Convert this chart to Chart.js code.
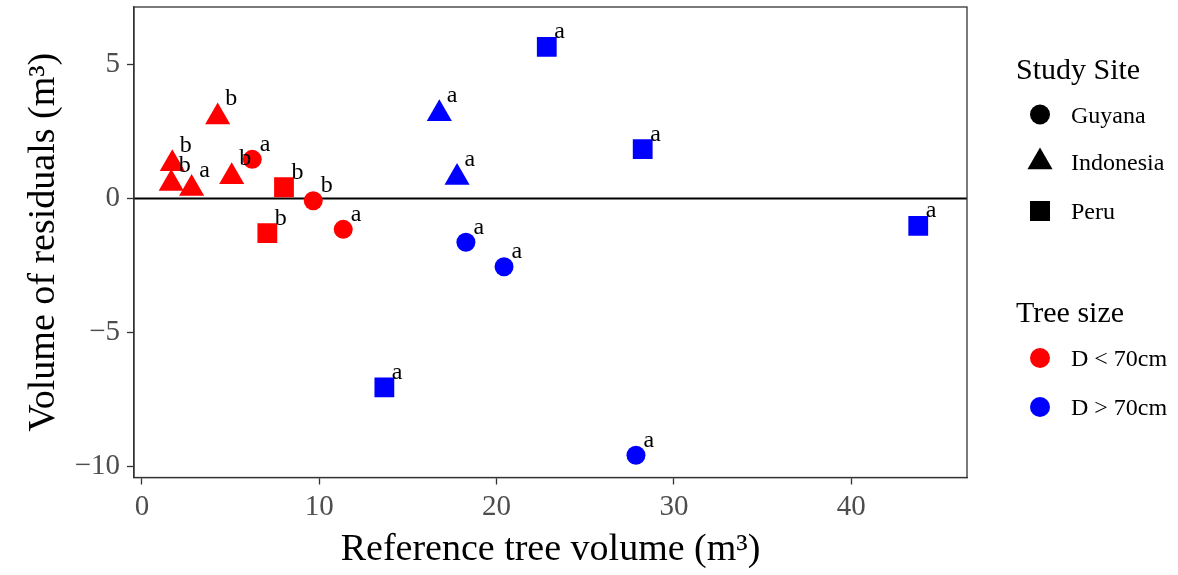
<!DOCTYPE html>
<html>
<head>
<meta charset="utf-8">
<script src="https://cdn.jsdelivr.net/npm/chart.js@4"></script>
<style>
  html, body { margin: 0; padding: 0; background: #fff; }
  canvas { display: block; }
</style>
</head>
<body>
<canvas id="chart" width="1178" height="575"></canvas>
<script>
// values
const refVolume = [4.27, 1.71, 1.65, 2.80, 5.06, 6.22, 8.01, 9.66, 11.35, 7.07,
                   22.83, 16.77, 17.77, 28.24, 18.27, 20.42, 13.67, 27.86, 43.78]
const residuals = [3.04, 1.30, 0.56, 0.37, 0.81, 1.46, 0.42, -0.08, -1.15, -1.29,
                   5.65, 3.16, 0.78, 1.84, -1.63, -2.54, -7.04, -9.57, -1.02]
const site = ["Indonesia", "Indonesia", "Indonesia", "Indonesia", "Indonesia", "Guyana", "Peru", "Guyana", "Guyana", "Peru",
              "Peru", "Indonesia", "Indonesia", "Peru", "Guyana", "Guyana", "Peru", "Guyana", "Peru"]
const treeSize = ["small", "small", "small", "small", "small", "small", "small", "small", "small", "small",
                  "large", "large", "large", "large", "large", "large", "large", "large", "large"]
const letters = ["b", "b", "b", "a", "b", "a", "b", "b", "a", "b",
                 "a", "a", "a", "a", "a", "a", "a", "a", "a"]

const sites = ["Guyana", "Indonesia", "Peru"]
const sizeLabels = {small: "D < 70cm", large: "D > 70cm"}
const sizeColors = {small: "#FF0000", large: "#0000FF"}
const shapes = {Guyana: "circle", Indonesia: "triangle", Peru: "rect"}
const radii = {Guyana: 9.5, Indonesia: 14.5, Peru: 14}
// letter offset above the point; triangles are drawn lower than their box centre
const letterDy = {Guyana: -8.5, Indonesia: -12, Peru: -8.5}

const serif = "'Liberation Serif', 'Times New Roman', serif"

let datasets = []
for (let sz of ["small", "large"]) {
  for (let s of sites) {
    let pts = []
    let lab = []
    refVolume.forEach((v, i) => {
      if (site[i] === s && treeSize[i] === sz) {
        pts.push({x: v, y: residuals[i]})
        lab.push(letters[i])
      }
    })
    datasets.push({
      label: s + " " + sizeLabels[sz],
      data: pts,
      letters: lab,
      site: s,
      pointStyle: shapes[s],
      pointRadius: radii[s],
      pointHoverRadius: radii[s],
      backgroundColor: sizeColors[sz],
      borderColor: sizeColors[sz],
      borderWidth: 0
    })
  }
}

// zero line, letters next to each point, panel box, custom legend
const extras = {
  id: "extras",
  beforeDatasetsDraw(chart) {
    const {ctx, chartArea: a} = chart
    const y0 = chart.scales.y.getPixelForValue(0)
    ctx.save()
    ctx.strokeStyle = "#000"
    ctx.lineWidth = 2
    ctx.beginPath()
    ctx.moveTo(a.left, y0)
    ctx.lineTo(a.right, y0)
    ctx.stroke()
    ctx.restore()
  },
  afterDatasetsDraw(chart) {
    const {ctx, chartArea: a} = chart
    ctx.save()
    ctx.font = "24px " + serif
    ctx.fillStyle = "#000"
    ctx.textAlign = "left"
    ctx.textBaseline = "alphabetic"
    chart.data.datasets.forEach((ds, i) => {
      chart.getDatasetMeta(i).data.forEach((el, j) => {
        ctx.fillText(ds.letters[j], el.x + 7.5, el.y + letterDy[ds.site])
      })
    })
    ctx.strokeStyle = "#333"
    ctx.lineWidth = 1.3
    ctx.strokeRect(a.left, a.top, a.right - a.left, a.bottom - a.top)

    // legend
    ctx.fillStyle = "#000"
    ctx.font = "30px " + serif
    ctx.fillText("Study Site", 1016, 78.5)
    ctx.fillText("Tree size", 1016, 322)
    ctx.font = "24px " + serif
    const kx = 1040
    sites.forEach((s, k) => {
      const ky = [114.5, 162, 211][k]
      ctx.fillStyle = "#000"
      drawShape(ctx, s, kx, ky)
      ctx.fillText(s, 1071, ky + 8)
    })
    ;["small", "large"].forEach((sz, k) => {
      const ky = [358, 407][k]
      ctx.fillStyle = sizeColors[sz]
      drawShape(ctx, "Guyana", kx, ky)
      ctx.fillStyle = "#000"
      ctx.fillText(sizeLabels[sz], 1071, ky + 8)
    })
    ctx.restore()
  }
}

function drawShape(ctx, s, x, y) {
  ctx.beginPath()
  if (s === "Guyana") {
    ctx.arc(x, y, 10, 0, Math.PI * 2)
  } else if (s === "Indonesia") {
    const r = 14.5
    ctx.moveTo(x, y - r)
    ctx.lineTo(x + r * Math.sin(Math.PI / 3), y + r / 2)
    ctx.lineTo(x - r * Math.sin(Math.PI / 3), y + r / 2)
    ctx.closePath()
  } else {
    ctx.rect(x - 10, y - 10, 20, 20)
  }
  ctx.fill()
}

const minusSign = v => String(v).replace("-", "\u2212")

new Chart(document.getElementById("chart").getContext("2d"), {
  type: "scatter",
  data: {datasets: datasets},
  plugins: [extras],
  options: {
    responsive: false,
    devicePixelRatio: 1,
    animation: false,
    events: [],
    layout: {autoPadding: false, padding: {left: 0, right: 211, top: 7, bottom: 0}},
    plugins: {legend: {display: false}, tooltip: {enabled: false}},
    scales: {
      x: {
        type: "linear",
        min: -0.45,
        max: 46.53,
        afterFit(scale) {
          scale.height = 97.5
          scale.paddingLeft = 0
          scale.paddingRight = 0
        },
        border: {color: "#333", width: 1.3},
        grid: {drawOnChartArea: false, tickLength: 7, tickColor: "#333", tickWidth: 1.3},
        ticks: {stepSize: 10, includeBounds: false, color: "#4D4D4D", padding: 5,
                maxRotation: 0, font: {family: serif, size: 29}},
        title: {display: true, text: "Reference tree volume (m³)", color: "#000",
                font: {family: serif, size: 38}, padding: {top: 0, bottom: 2}}
      },
      y: {
        type: "linear",
        min: -10.40,
        max: 7.14,
        afterFit(scale) {
          scale.width = 134
          scale.paddingTop = 0
          scale.paddingBottom = 0
        },
        border: {color: "#333", width: 1.3},
        grid: {drawOnChartArea: false, tickLength: 7, tickColor: "#333", tickWidth: 1.3},
        ticks: {stepSize: 5, includeBounds: false, color: "#4D4D4D", padding: 7,
                callback: minusSign, font: {family: serif, size: 29}},
        title: {display: true, text: "Volume of residuals (m³)", color: "#000",
                font: {family: serif, size: 38}, padding: {top: 21, bottom: 0}}
      }
    }
  }
})
</script>
</body>
</html>
